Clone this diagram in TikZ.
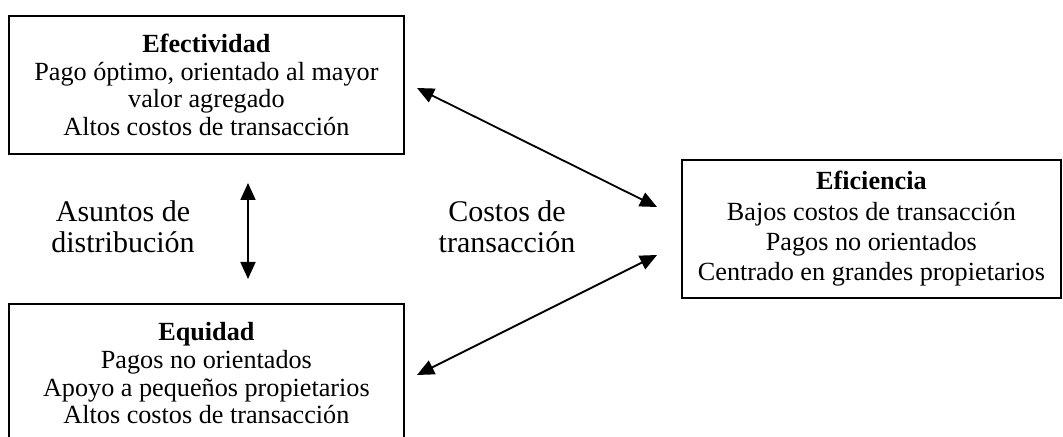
\documentclass[tikz,border=0pt]{standalone}
\usepackage{fontspec}
\setmainfont{Liberation Serif}
\usetikzlibrary{arrows.meta}
\begin{document}
\begin{tikzpicture}[x=0.5pt,y=-0.5pt,
  box/.style={draw, line width=0.9pt, inner sep=0pt, align=center,
    font=\fontsize{13.1}{13.85}\selectfont},
  lbl/.style={align=center, font=\fontsize{15}{15.5}\selectfont},
  conn/.style={line width=0.9pt, {Triangle[length=8.5pt,width=7.5pt]}-{Triangle[length=8.5pt,width=7.5pt]}}]
\useasboundingbox (0,0) rectangle (1063,437);
\clip (0,0) rectangle (1063,437);
\node[box, anchor=north west, minimum width=197.5pt, minimum height=69pt] (efe) at (8,15)
  {\textbf{Efectividad}\\Pago óptimo, orientado al mayor\\valor agregado\\Altos costos de transacción};
\node[box, anchor=north west, minimum width=197.5pt, minimum height=69.5pt] (equ) at (8,303)
  {\textbf{Equidad}\\Pagos no orientados\\Apoyo a pequeños propietarios\\Altos costos de transacción};
\node[box, anchor=north west, minimum width=189.5pt, minimum height=69pt,
  font=\fontsize{13.1}{15.1}\selectfont] (efi) at (681,159)
  {\textbf{Eficiencia}\\Bajos costos de transacción\\Pagos no orientados\\Centrado en grandes propietarios};
\node[lbl] (asu) at (123,227) {Asuntos de\\distribución};
\node[lbl] (cos) at (507,227) {Costos de\\transacción};
\coordinate (a1) at (417,88);
\coordinate (a2) at (657,207);
\coordinate (b1) at (417,375);
\coordinate (b2) at (657,255);
\coordinate (v1) at (248,183);
\coordinate (v2) at (248,279);
\draw[conn] (a1) -- (a2);
\draw[conn] (b1) -- (b2);
\draw[conn] (v1) -- (v2);
\end{tikzpicture}
\end{document}
